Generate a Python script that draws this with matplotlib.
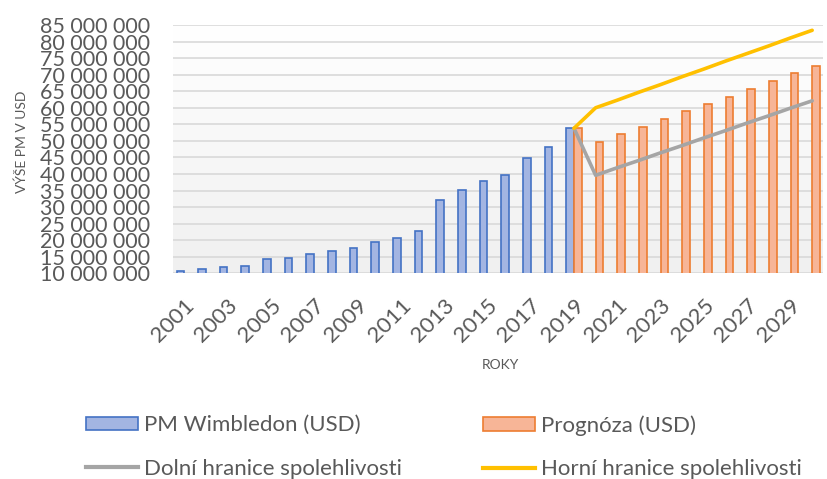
import matplotlib
matplotlib.use("Agg")
import matplotlib.pyplot as plt
import numpy as np
from matplotlib.patches import Patch
from matplotlib.lines import Line2D

plt.rcParams['font.family'] = ['Lato', 'DejaVu Sans']

# data
hist_years = list(range(2001, 2020))
hist_values = [10.8, 11.3, 12.0, 12.3, 14.3, 14.7, 15.9, 16.8, 17.7, 19.4,
               20.7, 22.7, 32.0, 35.3, 37.8, 39.8, 44.7, 48.1, 53.8]
fc_years = list(range(2019, 2031))
fc_values = [53.8, 49.6, 52.1, 54.3, 56.6, 58.9, 61.1, 63.4, 65.8, 68.1, 70.4, 72.6]
lower_values = [53.8, 39.6, 41.9, 44.1, 46.4, 48.6, 50.9, 53.1, 55.4, 57.6, 59.9, 62.1]
upper_values = [53.8, 60.0, 62.3, 64.7, 67.0, 69.4, 71.7, 74.1, 76.4, 78.7, 81.1, 83.4]
y_ticks = list(range(10, 86, 5))
x_tick_years = list(range(2001, 2031, 2))

txt = '#595959'
W, H = 828, 479
fig = plt.figure(figsize=(W / 100, H / 100), dpi=100)
ax = fig.add_axes([173.4 / W, 1 - 273.3 / H, (823 - 173.4) / W, (273.3 - 25) / H])

# light gradient in the plot area
grad = np.linspace(1.0, 0.0, 256).reshape(-1, 1)
ax.imshow(grad, extent=[0, 1, 0, 1], transform=ax.transAxes, aspect='auto',
          cmap=matplotlib.colors.LinearSegmentedColormap.from_list('g', ['#f0f0f0', '#ffffff']),
          zorder=0)

M = 1e6
ax.bar(np.array(hist_years) - 0.18, np.array(hist_values) * M, width=0.35,
       color='#a3b5e2', edgecolor='#4472c4', linewidth=1.2, zorder=3)
ax.bar(np.array(fc_years) + 0.18, np.array(fc_values) * M, width=0.35,
       color='#f7b597', edgecolor='#ed7d31', linewidth=1.2, zorder=3)
ax.plot(fc_years, np.array(lower_values) * M, color='#a5a5a5', lw=2.6, zorder=4,
        solid_capstyle='round')
ax.plot(fc_years, np.array(upper_values) * M, color='#ffc000', lw=2.6, zorder=4,
        solid_capstyle='round')

ax.set_xlim(2000.5, 2030.5)
ax.set_ylim(10 * M, 85 * M)
ax.set_yticks([v * M for v in y_ticks])
ax.set_yticklabels([f"{v * 1000000:,}".replace(",", " ") for v in y_ticks],
                   fontsize=15.5, color=txt)
ax.set_xticks(x_tick_years)
ax.set_xticklabels([str(y) for y in x_tick_years], rotation=45, ha='right',
                   rotation_mode='anchor', fontsize=16, color=txt)
ax.tick_params(axis='y', length=0, pad=17)
ax.tick_params(axis='x', length=0, pad=16)
ax.grid(axis='y', color='#d9d9d9', lw=1.2, zorder=1)
ax.set_axisbelow(True)
for s in ax.spines.values():
    s.set_visible(False)

fig.text(22 / W, 1 - 142 / H, 'VÝŠE PM V USD', rotation=90, ha='center', va='center',
         fontsize=10, color=txt)
fig.text(500 / W, 1 - 365 / H, 'ROKY', ha='center', va='center', fontsize=10, color=txt)

kw = dict(loc='center left', frameon=False, fontsize=16, labelcolor=txt,
          handlelength=2.34, handleheight=0.59, handletextpad=0.25,
          borderpad=0, borderaxespad=0, labelspacing=1.05)
h1 = [Patch(facecolor='#a3b5e2', edgecolor='#4472c4', lw=1.2),
      Line2D([], [], color='#a5a5a5', lw=3)]
h2 = [Patch(facecolor='#f7b597', edgecolor='#ed7d31', lw=1.2),
      Line2D([], [], color='#ffc000', lw=3)]
fig.legend(h1, ['PM Wimbledon (USD)', 'Dolní hranice spolehlivosti'],
           bbox_to_anchor=(86 / W, 1 - 447 / H), **kw)
fig.legend(h2, ['Prognóza (USD)', 'Horní hranice spolehlivosti'],
           bbox_to_anchor=(483 / W, 1 - 447 / H), **kw)

fig.savefig('out.png', dpi=100)
